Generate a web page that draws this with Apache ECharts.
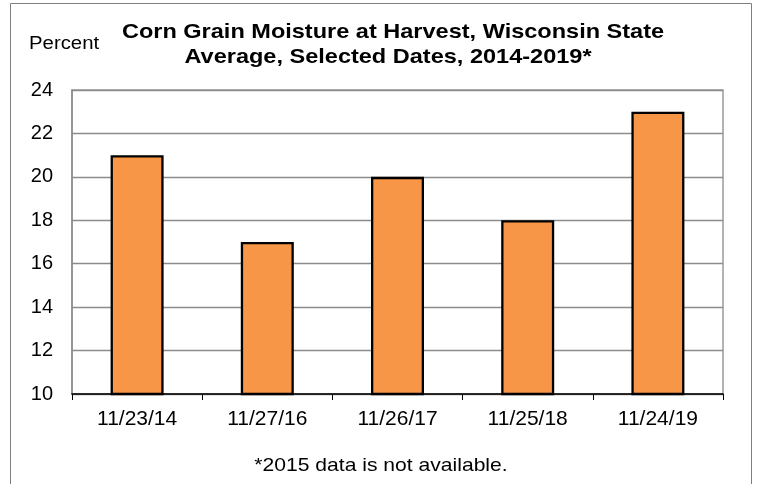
<!DOCTYPE html>
<html>
<head>
<meta charset="utf-8">
<script src="https://cdn.jsdelivr.net/npm/echarts@6/dist/echarts.min.js"></script>
<style>
html,body{margin:0;padding:0;background:#fff;}
#chart{width:759px;height:484px;}
</style>
</head>
<body>
<div id="chart"></div>
<script>
const categories = ['11/23/14', '11/27/16', '11/26/17', '11/25/18', '11/24/19'];
const moisture = [21, 17, 20, 18, 23];
const yTicks = { min: 10, max: 24, interval: 2 };
const titleLines = ['Corn Grain Moisture at Harvest, Wisconsin State', 'Average, Selected Dates, 2014-2019*'];
const yAxisLabel = 'Percent';
const footnote = '*2015 data is not available.';

const chart = echarts.init(document.getElementById('chart'), null, { renderer: 'canvas' });
const FONT = 'Arial, "Liberation Sans", Helvetica, sans-serif';

chart.setOption({
  animation: false,
  backgroundColor: '#fff',
  grid: {
    left: 72, right: 36, top: 90, bottom: 90,
    show: true, borderColor: '#9a9a9a', borderWidth: 1.5, backgroundColor: 'transparent'
  },
  xAxis: {
    type: 'category',
    data: categories,
    boundaryGap: true,
    axisLine: { show: true, lineStyle: { color: '#000', width: 1.5 } },
    axisTick: { show: true, length: 6, inside: false, lineStyle: { color: '#000', width: 1 } },
    axisLabel: { color: '#000', fontFamily: FONT, fontSize: 21, margin: 15 },
    splitLine: { show: false }
  },
  yAxis: {
    type: 'value',
    min: yTicks.min, max: yTicks.max, interval: yTicks.interval,
    axisLine: { show: true, lineStyle: { color: '#8c8c8c', width: 1.5 } },
    axisTick: { show: false },
    axisLabel: { color: '#000', fontFamily: FONT, fontSize: 20, margin: 19 },
    splitLine: { show: true, lineStyle: { color: '#8c8c8c', width: 1.3 } }
  },
  series: [{
    type: 'bar',
    data: moisture,
    barWidth: 53,
    itemStyle: { color: '#F79646', borderColor: '#000', borderWidth: 2.3 }
  }],
  graphic: [
    {
      type: 'rect', silent: true,
      shape: { x: 10.5, y: 3.5, width: 741, height: 500 },
      style: { fill: 'none', stroke: '#808080', lineWidth: 1 }
    },
    {
      type: 'text', x: 393, y: 32.5, scaleX: 1.12,
      style: { text: titleLines[0], align: 'center', verticalAlign: 'middle', font: 'bold 21px ' + FONT, fill: '#000' }
    },
    {
      type: 'text', x: 388, y: 57, scaleX: 1.12,
      style: { text: titleLines[1], align: 'center', verticalAlign: 'middle', font: 'bold 21px ' + FONT, fill: '#000' }
    },
    {
      type: 'text', x: 29, y: 44, scaleX: 1.13,
      style: { text: yAxisLabel, align: 'left', verticalAlign: 'middle', font: '18px ' + FONT, fill: '#000' }
    },
    {
      type: 'text', x: 381, y: 466, scaleX: 1.11,
      style: { text: footnote, align: 'center', verticalAlign: 'middle', font: '19px ' + FONT, fill: '#000' }
    }
  ]
});
</script>
</body>
</html>
